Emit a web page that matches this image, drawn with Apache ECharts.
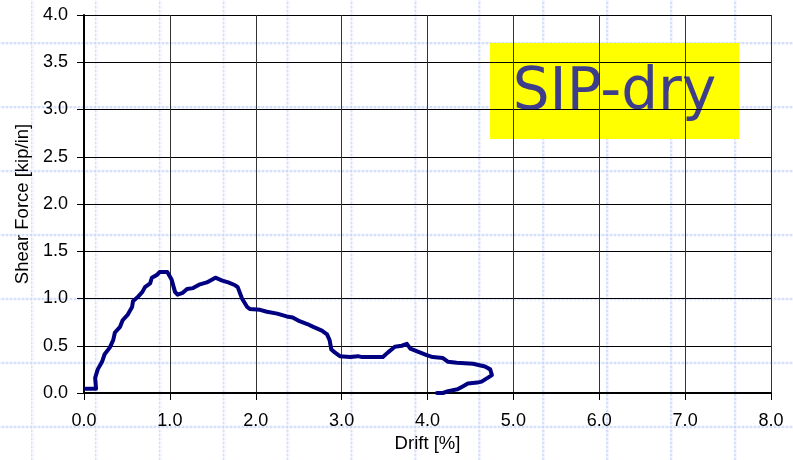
<!DOCTYPE html>
<html>
<head>
<meta charset="utf-8">
<script src="https://cdn.jsdelivr.net/npm/echarts@6/dist/echarts.min.js"></script>
<style>
  html, body { margin: 0; padding: 0; }
  body {
    width: 793px; height: 460px; overflow: hidden;
    background-color: #ffffff;
    /* light slide-template lattice behind the chart */
    background-image:
      repeating-linear-gradient(to bottom, rgba(255,255,255,0.6) 0 2px, transparent 2px 4px),
      repeating-linear-gradient(to right, rgba(255,255,255,0.6) 0 2px, transparent 2px 4px),
      linear-gradient(to right, rgba(196,210,250,0.7) 3px, transparent 3px),
      linear-gradient(to bottom, rgba(196,210,250,0.7) 3px, transparent 3px);
    background-size: 4px 4px, 4px 4px, 63.9px 63.9px, 63.9px 63.9px;
    background-position: 0 0, 0 0, 31px 42px, 31px 42px;
  }
  #chart { width: 793px; height: 460px; }
</style>
</head>
<body>
<div id="chart"></div>
<script>
// Hysteresis envelope of the dry SIP wall: drift [%] vs shear force [kip/in]
const drift = [0.02, 0.14, 0.13, 0.16, 0.21, 0.24, 0.30, 0.34, 0.36, 0.42, 0.45, 0.51, 0.56, 0.57, 0.63,
  0.68, 0.71, 0.77, 0.79, 0.85, 0.88, 0.97, 0.99, 1.02, 1.06, 1.09, 1.15, 1.20, 1.27, 1.35, 1.43, 1.53,
  1.61, 1.68, 1.76, 1.79, 1.84, 1.90, 1.93, 2.05, 2.13, 2.25, 2.36, 2.43, 2.51, 2.60, 2.67, 2.77, 2.83,
  2.86, 2.88, 2.92, 2.98, 3.10, 3.19, 3.24, 3.48, 3.54, 3.62, 3.70, 3.76, 3.80, 3.88, 3.99, 4.06, 4.18,
  4.24, 4.34, 4.53, 4.67, 4.73, 4.75, 4.70, 4.63, 4.58, 4.47, 4.41, 4.35, 4.24, 4.18, 4.11];
const shear = [0.045, 0.045, 0.16, 0.25, 0.33, 0.41, 0.48, 0.56, 0.64, 0.70, 0.77, 0.83, 0.91, 0.97, 1.02,
  1.07, 1.12, 1.16, 1.22, 1.25, 1.28, 1.28, 1.27, 1.20, 1.07, 1.04, 1.06, 1.10, 1.11, 1.15, 1.17, 1.22,
  1.19, 1.17, 1.14, 1.12, 1.00, 0.91, 0.89, 0.88, 0.86, 0.84, 0.81, 0.80, 0.76, 0.73, 0.70, 0.66, 0.62,
  0.56, 0.46, 0.43, 0.39, 0.38, 0.39, 0.38, 0.38, 0.43, 0.49, 0.50, 0.52, 0.47, 0.44, 0.40, 0.38, 0.37,
  0.33, 0.32, 0.31, 0.28, 0.25, 0.19, 0.16, 0.12, 0.11, 0.10, 0.07, 0.04, 0.02, 0.00, 0.00];

const xTicks = { min: 0, max: 8, step: 1 };
const yTicks = { min: 0, max: 4, step: 0.5 };
const xTitle = 'Drift [%]';
const yTitle = 'Shear Force [kip/in]';
const specimen = 'SIP-dry';

const points = drift.map((d, i) => [d, shear[i]]);
const font = '"Liberation Sans", Arial, sans-serif';

const chart = echarts.init(document.getElementById('chart'), null, { renderer: 'canvas' });
chart.setOption({
  animation: false,
  backgroundColor: 'transparent',
  grid: { left: 84, right: 22, top: 15, bottom: 67, containLabel: false },
  xAxis: {
    type: 'value',
    min: xTicks.min, max: xTicks.max, interval: xTicks.step,
    name: xTitle, nameLocation: 'middle', nameGap: 36,
    nameTextStyle: { fontFamily: font, fontSize: 18.5, color: '#000' },
    axisLine: { show: true, onZero: false, lineStyle: { color: '#000', width: 2 } },
    axisTick: { show: true, inside: false, length: 7, lineStyle: { color: '#000', width: 1 } },
    axisLabel: { fontFamily: font, fontSize: 18, color: '#000', margin: 19,
      formatter: v => v.toFixed(1) },
    splitLine: { show: true, lineStyle: { color: '#333', width: 1 } }
  },
  yAxis: {
    type: 'value',
    min: yTicks.min, max: yTicks.max, interval: yTicks.step,
    name: yTitle, nameLocation: 'middle', nameGap: 48, nameRotate: 90,
    nameTextStyle: { fontFamily: font, fontSize: 18.5, color: '#000' },
    axisLine: { show: true, onZero: false, lineStyle: { color: '#000', width: 2 } },
    axisTick: { show: true, inside: false, length: 7, lineStyle: { color: '#000', width: 1 } },
    axisLabel: { fontFamily: font, fontSize: 18, color: '#000', margin: 16,
      formatter: v => v.toFixed(1) },
    splitLine: { show: true, lineStyle: { color: '#000', width: 1 } }
  },
  graphic: [
    {
      type: 'group', z: 100,
      children: [
        { type: 'rect', shape: { x: 490, y: 43, width: 249, height: 96 },
          style: { fill: '#ffff00' } },
        { type: 'text', x: 614.5, y: 94,
          style: { text: specimen, fontFamily: '"DejaVu Sans", Verdana, sans-serif',
            fontSize: 58, fill: '#3d3d8c', align: 'center', verticalAlign: 'middle' } }
      ]
    }
  ],
  series: [{
    type: 'line',
    data: points,
    showSymbol: false,
    smooth: false,
    lineStyle: { color: '#000080', width: 4, join: 'round', cap: 'round' },
    z: 5
  }]
});
</script>
</body>
</html>
